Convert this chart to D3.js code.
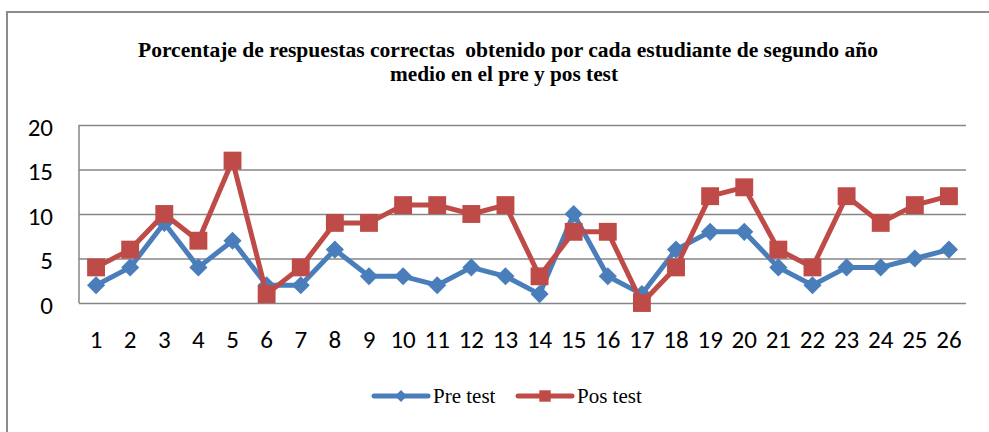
<!DOCTYPE html>
<html>
<head>
<meta charset="utf-8">
<script src="https://cdn.jsdelivr.net/npm/d3@7"></script>
<style>
  body { margin: 0; background: #fff; }
  svg { display: block; }
</style>
</head>
<body>
<div id="chart"></div>
<script>
var width = 989, height = 432;
var margin = { top: 125, right: 23, bottom: 129, left: 79 };

var students = d3.range(1, 27).map(String);
var preTest = [2, 4, 9, 4, 7, 2, 2, 6, 3, 3, 2, 4, 3, 1, 10, 3, 1, 6, 8, 8, 4, 2, 4, 4, 5, 6];
var posTest = [4, 6, 10, 7, 16, 1, 4, 9, 9, 11, 11, 10, 11, 3, 8, 8, 0, 4, 12, 13, 6, 4, 12, 9, 11, 12];
var yTicks = [0, 5, 10, 15, 20];

var svg = d3.select("#chart")
    .append("svg")
    .attr("width", width)
    .attr("height", height);

// outer frame (right and bottom edges fall outside the picture)
svg.append("rect")
    .attr("x", 7).attr("y", 12)
    .attr("width", 1000).attr("height", 440)
    .attr("fill", "none")
    .attr("stroke", "#8c8c8c")
    .attr("stroke-width", 2);

// title
var title = svg.append("text")
    .attr("text-anchor", "middle")
    .style("font-family", "'Liberation Serif', 'Times New Roman', serif")
    .style("font-weight", "bold")
    .style("font-size", "20px")
    .style("white-space", "pre");
title.append("tspan").attr("x", 508).attr("y", 57)
    .attr("textLength", 740).attr("lengthAdjust", "spacingAndGlyphs")
    .text("Porcentaje de respuestas correctas  obtenido por cada estudiante de segundo año");
title.append("tspan").attr("x", 504).attr("y", 81)
    .attr("textLength", 228).attr("lengthAdjust", "spacingAndGlyphs")
    .text("medio en el pre y pos test");

let x = d3.scaleBand()
    .domain(students)
    .range([margin.left, width - margin.right]);

let y = d3.scaleLinear()
    .domain([0, 20])
    .range([height - margin.bottom, margin.top]);

var labelFont = "Carlito, Calibri, 'Open Sans', 'Liberation Sans', sans-serif";

// gridlines
let yAxis = d3.axisLeft(y)
    .tickValues(yTicks)
    .tickSize(-(width - margin.left - margin.right))
    .tickPadding(26);

svg.append("g")
    .attr("class", "axis yAxis")
    .attr("transform", `translate(${margin.left}, 0)`)
    .call(yAxis)
    .call(g => g.select(".domain").remove())
    .call(g => g.selectAll(".tick line").attr("stroke", "#868686").attr("stroke-width", 1.5))
    .call(g => g.selectAll(".tick text")
        .attr("fill", "#000")
        .attr("dy", "0.4em")
        .style("font-family", labelFont)
        .style("font-size", "25px"));

// left axis line
svg.append("line")
    .attr("x1", margin.left).attr("x2", margin.left)
    .attr("y1", y(20)).attr("y2", y(0))
    .attr("stroke", "#868686").attr("stroke-width", 1.5);

let xAxis = d3.axisBottom(x).tickSize(0).tickPadding(27);
svg.append("g")
    .attr("class", "axis xAxis")
    .attr("transform", `translate(0, ${y(0)})`)
    .call(xAxis)
    .call(g => g.select(".domain").remove())
    .call(g => g.selectAll(".tick text")
        .attr("fill", "#000")
        .style("font-family", labelFont)
        .style("font-size", "25px"));

var series = [
    { name: "Pre test", values: preTest, colour: "#4a7ebb", marker: "diamond" },
    { name: "Pos test", values: posTest, colour: "#be4b48", marker: "square" }
];

let line = d3.line()
    .x((d, i) => x(students[i]) + x.bandwidth() / 2)
    .y(d => y(d));

var diamond = d3.symbol().type(d3.symbolDiamond2).size(210);
var square = d3.symbol().type(d3.symbolSquare).size(320);

series.forEach(s => {
    svg.append("path")
        .datum(s.values)
        .attr("fill", "none")
        .attr("stroke", s.colour)
        .attr("stroke-width", 5)
        .attr("stroke-linejoin", "round")
        .attr("d", line);

    svg.selectAll("path.marker-" + s.marker)
        .data(s.values)
        .enter()
        .append("path")
        .attr("class", "marker-" + s.marker)
        .attr("transform", (d, i) => `translate(${x(students[i]) + x.bandwidth() / 2}, ${y(d)})`)
        .attr("d", s.marker == "diamond" ? diamond : square)
        .attr("fill", s.colour);
});

// legend
var legendItems = [
    { x: 374, s: series[0] },
    { x: 518, s: series[1] }
];
legendItems.forEach(l => {
    var g = svg.append("g").attr("transform", `translate(${l.x}, 396)`);
    g.append("line")
        .attr("x1", 0).attr("x2", 54)
        .attr("stroke", l.s.colour).attr("stroke-width", 5)
        .attr("stroke-linecap", "round");
    g.append("path")
        .attr("transform", "translate(27, 0)")
        .attr("d", d3.symbol().type(l.s.marker == "diamond" ? d3.symbolDiamond2 : d3.symbolSquare).size(l.s.marker == "diamond" ? 90 : 130))
        .attr("fill", l.s.colour);
    g.append("text")
        .attr("x", 59).attr("y", 7)
        .style("font-family", "'Liberation Serif', 'Times New Roman', serif")
        .style("font-size", "21px")
        .text(l.s.name);
});
</script>
</body>
</html>
